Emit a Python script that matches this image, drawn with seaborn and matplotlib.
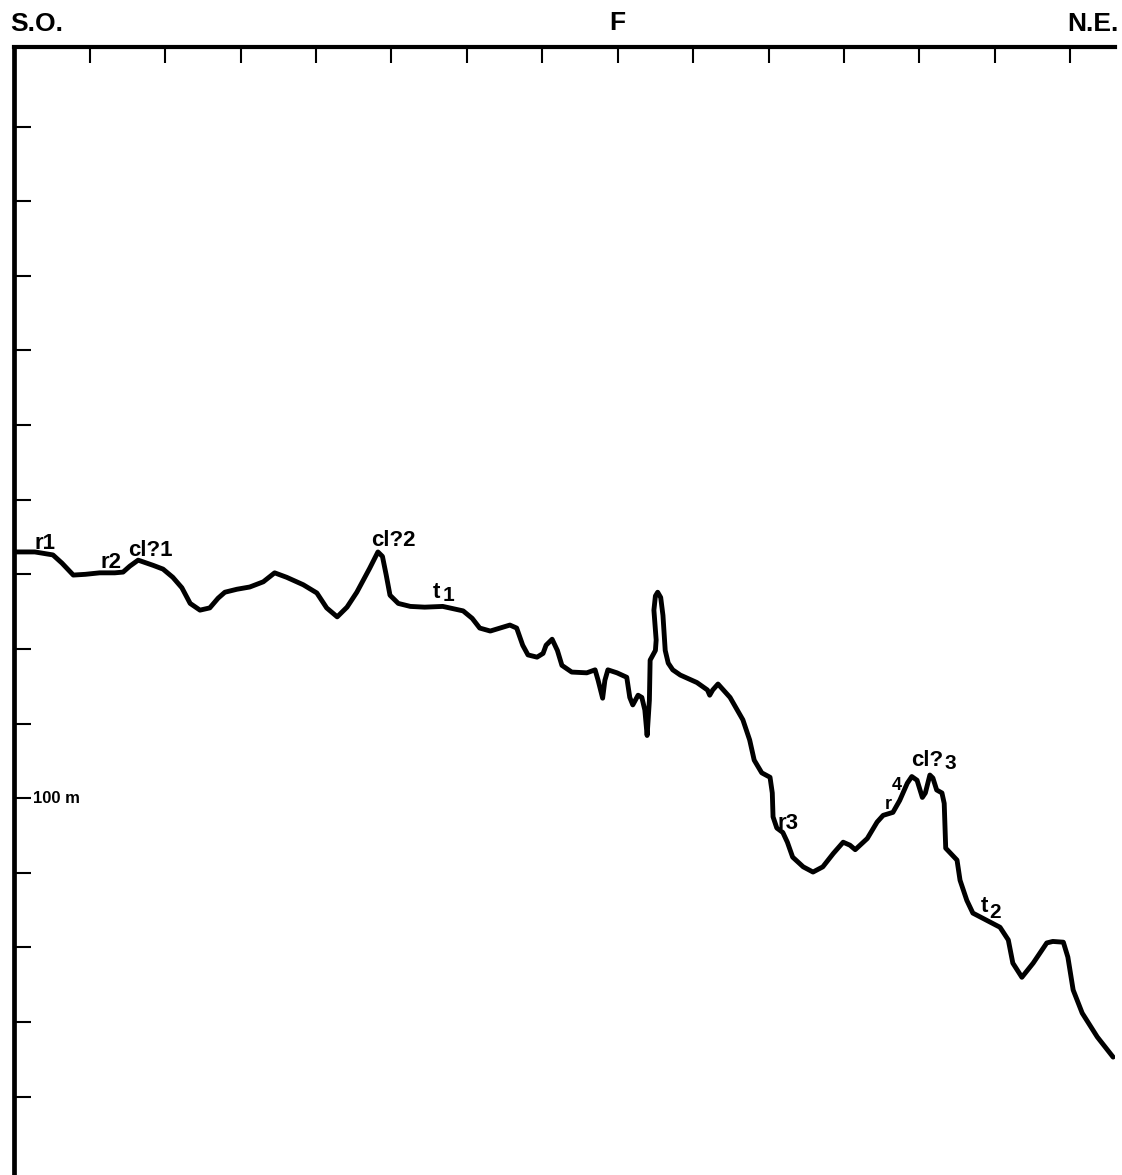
import matplotlib
matplotlib.use("Agg")
import matplotlib.pyplot as plt
import matplotlib.transforms as mtransforms
import pandas as pd
import seaborn as sns

# ---------------- data ----------------
# horizontal distance, in units of one top-axis tick
distance = [0.01, 0.27, 0.51, 0.63, 0.78, 0.94, 1.13, 1.33, 1.44, 1.53,
            1.64, 1.84, 1.97, 2.10, 2.22, 2.33, 2.46, 2.59, 2.70, 2.79,
            2.95, 3.12, 3.30, 3.45, 3.61, 3.83, 4.01, 4.14, 4.28, 4.41,
            4.54, 4.71, 4.82, 4.88, 4.93, 4.98,
            5.09, 5.25, 5.44, 5.68, 5.95, 6.07, 6.17, 6.31, 6.57, 6.66,
            6.74, 6.81, 6.93, 7.01, 7.05, 7.13, 7.20, 7.26, 7.39, 7.59,
            7.70, 7.74, 7.80, 7.83, 7.87, 7.99, 8.12, 8.16, 8.20, 8.27,
            8.32, 8.36, 8.39, 8.42, 8.43, 8.50, 8.51, 8.48, 8.50, 8.53,
            8.57, 8.60, 8.63, 8.67, 8.73, 8.83, 9.05, 9.19, 9.22, 9.26,
            9.33, 9.49,
            9.66, 9.75, 9.81, 9.91, 10.02, 10.05, 10.06, 10.11, 10.19, 10.25,
            10.32, 10.46, 10.59, 10.72, 10.86, 10.99, 11.08, 11.15, 11.31, 11.44,
            11.52, 11.65, 11.74, 11.84, 11.90, 11.97, 12.04, 12.08, 12.14, 12.18,
            12.23, 12.30, 12.33, 12.35, 12.50,
            12.54, 12.63, 12.71, 12.90, 13.07, 13.18, 13.24, 13.36, 13.51, 13.69,
            13.77, 13.91, 13.97, 14.04, 14.16, 14.36, 14.57]
# depth in metres (positive downwards)
depth = [67.0, 67.0, 67.4, 68.5, 70.1, 70.0, 69.8, 69.8, 69.7, 68.9,
         68.1, 68.8, 69.3, 70.4, 71.8, 73.9, 74.8, 74.5, 73.2, 72.4,
         72.0, 71.7, 71.0, 69.8, 70.4, 71.4, 72.5, 74.5, 75.7, 74.4,
         72.4, 69.2, 67.0, 67.6, 70.1, 72.8,
         73.9, 74.3, 74.4, 74.3, 74.9, 75.9, 77.2, 77.6, 76.8, 77.2,
         79.5, 80.8, 81.1, 80.6, 79.5, 78.7, 80.2, 82.2, 83.1, 83.2,
         82.8, 84.2, 86.6, 84.2, 82.8, 83.2, 83.8, 86.5, 87.5, 86.2,
         86.5, 88.2, 91.6, 86.9, 81.5, 80.2, 78.8, 74.8, 72.9, 72.4,
         73.1, 75.5, 80.2, 81.9, 82.8, 83.5, 84.5, 85.5, 86.2, 85.5,
         84.7, 86.5,
         89.5, 92.2, 94.9, 96.6, 97.2, 99.3, 102.5, 104.0, 104.6, 105.9,
         107.9, 109.2, 109.9, 109.2, 107.4, 105.9, 106.3, 106.9, 105.4, 103.2,
         102.3, 101.9, 100.3, 98.0, 97.1, 97.6, 99.9, 99.3, 96.9, 97.3,
         98.9, 99.3, 100.7, 106.7, 108.3,
         111.0, 113.7, 115.4, 116.4, 117.3, 119.0, 122.1, 124.0, 122.1, 119.4,
         119.2, 119.3, 121.3, 125.7, 128.8, 132.0, 134.7]

x_ticks = list(range(1, 15))
y_ticks = list(range(10, 150, 10))
scale_label = "100 m"
scale_value = 100

left_end_label = "S.O."
mid_label = "F"
mid_label_pos = 8
right_end_label = "N.E."

# feature annotations: text, distance, depth, font size
ann_text = ["r1", "r2", "cl?1", "cl?2", "t", "1", "r3", "r", "4", "cl?", "3", "t", "2"]
ann_x = [0.41, 1.28, 1.80, 5.02, 5.60, 5.75, 10.26, 11.59, 11.70, 12.10, 12.41, 12.87, 13.00]
ann_y = [65.9, 68.4, 66.8, 65.5, 72.4, 72.9, 103.4, 100.8, 98.3, 94.9, 95.4, 114.5, 115.3]
ann_size = [16, 16, 16, 16, 16, 15, 16, 13, 13, 16, 15, 16, 15]

# ---------------- drawing ----------------
sns.set_theme(style="white")
plt.rcParams["font.family"] = ["Liberation Sans", "DejaVu Sans"]

W, H = 1122, 1175
fig = plt.figure(figsize=(W / 100, H / 100), dpi=100)
fig.patch.set_facecolor("white")
left_px, right_px, top_px = 13.5, 1115, 47
ax = fig.add_axes([left_px / W, 0, (right_px - left_px) / W, (H - top_px) / H])
ax.set_facecolor("white")

df = pd.DataFrame({"distance": distance, "depth": depth})
sns.lineplot(data=df, x="distance", y="depth", sort=False, estimator=None,
             color="black", linewidth=3.5, ax=ax)
for ln in ax.lines:
    ln.set_solid_joinstyle("round")
    ln.set_solid_capstyle("round")

ax.set_xlim(-0.013, 14.595)
ax.set_ylim(150.5, -0.67)

# axes frame: only top and left
for side in ["right", "bottom"]:
    ax.spines[side].set_visible(False)
ax.spines["top"].set_linewidth(3.0)
ax.spines["left"].set_linewidth(3.4)
ax.spines["top"].set_color("black")
ax.spines["left"].set_color("black")

ax.xaxis.set_ticks_position("top")
ax.set_xticks(x_ticks)
ax.set_yticks(y_ticks)
ax.tick_params(axis="x", direction="in", length=11.5, width=1.5, color="black",
               labeltop=False, labelbottom=False, top=True, bottom=False)
ax.tick_params(axis="y", direction="in", length=12, width=1.5, color="black",
               labelleft=False, left=True, right=False)
ax.set_xlabel("")
ax.set_ylabel("")
ax.grid(False)

# scale label
ax.text(0.245, scale_value, scale_label, ha="left", va="center",
        fontsize=12, fontweight="bold", color="black")

# end labels
fig.text(10 / W, 1 - 24 / H, left_end_label, ha="left", va="center",
         fontsize=19, fontweight="bold", color="black")
fig.text(1119 / W, 1 - 24 / H, right_end_label, ha="right", va="center",
         fontsize=19, fontweight="bold", color="black")
blend = mtransforms.blended_transform_factory(ax.transData, fig.transFigure)
ax.text(mid_label_pos, 1 - 23 / H, mid_label, transform=blend, ha="center",
        va="center", fontsize=19, fontweight="bold", color="black")

for t, x, y, s in zip(ann_text, ann_x, ann_y, ann_size):
    ax.text(x, y, t, ha="center", va="center", fontsize=s,
            fontweight="bold", color="black", zorder=5)

fig.savefig("out.png", dpi=100, facecolor="white")
